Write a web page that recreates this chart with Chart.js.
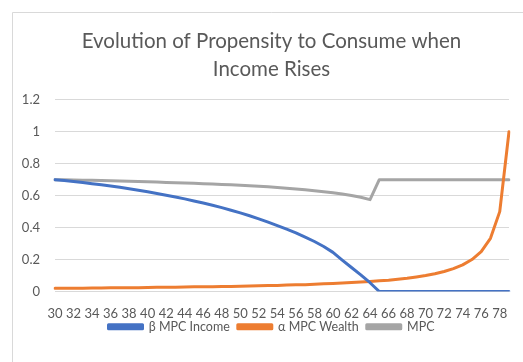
<!DOCTYPE html>
<html>
<head>
<meta charset="utf-8">
<script src="https://cdn.jsdelivr.net/npm/chart.js@4/dist/chart.umd.min.js"></script>
<style>
  html, body { margin: 0; padding: 0; background: #ffffff; overflow: hidden; }
  #wrap { position: relative; width: 523px; height: 362px; overflow: hidden; }
  canvas { display: block; }
</style>
</head>
<body>
<div id="wrap"><canvas id="chart" width="531" height="362"></canvas></div>
<script>
// Age of the household, one point per year
const ages = [30, 31, 32, 33, 34, 35, 36, 37, 38, 39,
              40, 41, 42, 43, 44, 45, 46, 47, 48, 49,
              50, 51, 52, 53, 54, 55, 56, 57, 58, 59,
              60, 61, 62, 63, 64, 65, 66, 67, 68, 69,
              70, 71, 72, 73, 74, 75, 76, 77, 78, 79];

// Marginal propensity to consume out of income
const betaMpcIncome = [0.700, 0.695, 0.689, 0.682, 0.675, 0.668, 0.660, 0.652, 0.643, 0.634,
                       0.624, 0.614, 0.603, 0.592, 0.580, 0.567, 0.554, 0.540, 0.525, 0.509,
                       0.492, 0.474, 0.455, 0.434, 0.412, 0.390, 0.367, 0.341, 0.313, 0.282,
                       0.245, 0.197, 0.150, 0.104, 0.055, 0, 0, 0, 0, 0,
                       0, 0, 0, 0, 0, 0, 0, 0, 0, 0];

// Marginal propensity to consume out of wealth
const alphaMpcWealth = [0.020, 0.020, 0.021, 0.021, 0.022, 0.022, 0.023, 0.023, 0.024, 0.024,
                        0.025, 0.026, 0.026, 0.027, 0.028, 0.029, 0.029, 0.030, 0.031, 0.032,
                        0.033, 0.034, 0.036, 0.037, 0.038, 0.040, 0.042, 0.043, 0.045, 0.048,
                        0.050, 0.053, 0.056, 0.059, 0.063, 0.067, 0.071, 0.077, 0.083, 0.091,
                        0.100, 0.111, 0.125, 0.143, 0.167, 0.200, 0.250, 0.333, 0.500, 1.000];

// Overall marginal propensity to consume
const mpc = [0.700, 0.699, 0.698, 0.697, 0.696, 0.695, 0.693, 0.692, 0.690, 0.688,
             0.687, 0.685, 0.683, 0.681, 0.679, 0.677, 0.675, 0.673, 0.670, 0.668,
             0.665, 0.662, 0.659, 0.655, 0.651, 0.647, 0.642, 0.637, 0.631, 0.625,
             0.618, 0.610, 0.601, 0.590, 0.575, 0.700, 0.700, 0.700, 0.700, 0.700,
             0.700, 0.700, 0.700, 0.700, 0.700, 0.700, 0.700, 0.700, 0.700, 0.700];

const seriesNames = ['β MPC Income', 'α MPC Wealth', 'MPC'];
const seriesColors = ['#4472C4', '#ED7D31', '#A5A5A5'];
const titleLines = ['Evolution of Propensity to Consume when', 'Income Rises'];

const textColor = '#595959';
const gridColor = '#D9D9D9';
const fontFamily = 'Lato, "Liberation Sans", sans-serif';

// White page with the thin frame around the chart object
const framePlugin = {
  id: 'frame',
  beforeDraw(chart) {
    const ctx = chart.ctx;
    ctx.save();
    ctx.fillStyle = '#ffffff';
    ctx.fillRect(0, 0, chart.width, chart.height);
    ctx.strokeStyle = '#D9D9D9';
    ctx.lineWidth = 1;
    ctx.beginPath();
    ctx.moveTo(12.5, chart.height);
    ctx.lineTo(12.5, 12.5);
    ctx.lineTo(chart.width, 12.5);
    ctx.stroke();
    ctx.restore();
  }
};

const makeSeries = (i, values) => ({
  label: seriesNames[i],
  data: values,
  borderColor: seriesColors[i],
  backgroundColor: seriesColors[i],
  borderWidth: 3,
  pointRadius: 0,
  tension: 0,
  fill: false,
  borderCapStyle: 'round',
  borderJoinStyle: 'round'
});

new Chart(document.getElementById('chart'), {
  type: 'line',
  data: {
    labels: ages,
    datasets: [
      makeSeries(0, betaMpcIncome),
      makeSeries(1, alphaMpcWealth),
      makeSeries(2, mpc)
    ]
  },
  plugins: [framePlugin],
  options: {
    responsive: false,
    animation: false,
    layout: { padding: { left: 12, top: 12, right: 0, bottom: 19 } },
    plugins: {
      tooltip: { enabled: false },
      title: {
        display: true,
        text: titleLines,
        color: textColor,
        font: { family: fontFamily, size: 20.5, weight: 'normal', lineHeight: 1.41 },
        padding: { top: 14.5, bottom: 15.5 }
      },
      legend: {
        display: true,
        position: 'bottom',
        labels: {
          color: textColor,
          font: { family: fontFamily, size: 12.5 },
          boxWidth: 34,
          boxHeight: 4,
          padding: 8
        }
      }
    },
    scales: {
      x: {
        type: 'category',
        offset: false,
        grid: { display: false, drawTicks: false },
        border: { display: false },
        ticks: {
          color: textColor,
          font: { family: fontFamily, size: 13 },
          autoSkip: false,
          maxRotation: 0,
          minRotation: 0,
          // mirrored labels are not clipped to the thin axis box;
          // the negative padding puts them back below the plot
          mirror: true,
          padding: -30.5,
          callback(value, index) {
            return index % 2 === 0 ? ages[index] : '';
          }
        },
        afterFit(scale) { scale.height = 21; }
      },
      y: {
        min: 0,
        max: 1.2,
        grid: { color: gridColor, lineWidth: 1, drawTicks: false },
        border: { display: false },
        ticks: {
          stepSize: 0.2,
          color: textColor,
          font: { family: fontFamily, size: 13 },
          padding: 15,
          callback(value) { return String(Math.round(value * 10) / 10); }
        },
        afterFit(scale) { scale.width = 43; }
      },
      // empty margin on the right of the plot, inside the chart frame
      yRight: {
        position: 'right',
        display: true,
        grid: { display: false, drawTicks: false },
        border: { display: false },
        ticks: { display: false },
        afterFit(scale) { scale.width = 22; }
      }
    }
  }
});
</script>
</body>
</html>
